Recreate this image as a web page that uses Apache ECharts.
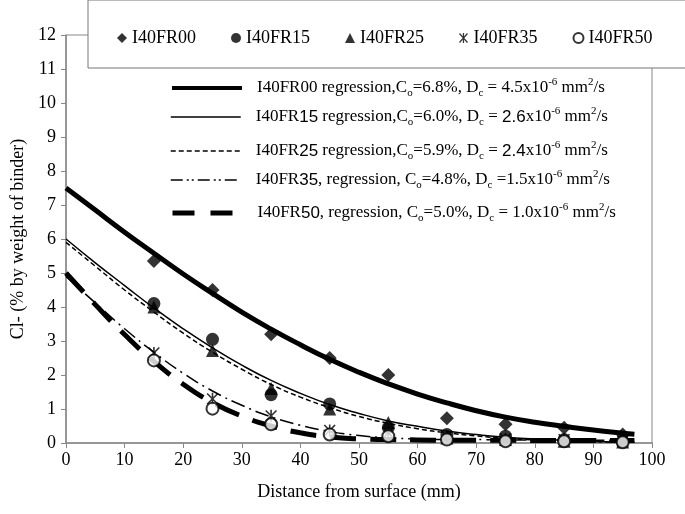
<!DOCTYPE html>
<html>
<head>
<meta charset="utf-8">
<script src="https://cdn.jsdelivr.net/npm/echarts@6/dist/echarts.min.js"></script>
<style>html,body{margin:0;padding:0;background:#fff}</style>
</head>
<body>
<div id="main" style="width:685px;height:514px"></div>
<script>
// measured chloride contents (% by weight of binder) at each depth
var depth = [15, 25, 35, 45, 55, 65, 75, 85, 95]
var fr00 = [5.35, 4.5, 3.2, 2.5, 2.0, 0.73, 0.55, 0.45, 0.25]
var fr15 = [4.1, 3.05, 1.42, 1.15, 0.45, 0.25, 0.2, 0.1, 0.05]
var fr25 = [4.0, 2.72, 1.6, 1.0, 0.6, 0.15, 0.1, 0.05, 0.03]
var fr35 = [2.65, 1.3, 0.8, 0.37, 0.3, 0.2, 0.12, 0.1, 0.05]
var fr50 = [2.43, 1.01, 0.55, 0.25, 0.2, 0.1, 0.05, 0.05, 0.02]

// regression curves
var fitX = [0, 5, 10, 15, 20, 25, 30, 35, 40, 45, 50, 55, 60, 65, 70, 75, 80, 85, 90, 95, 97]
var fit00 = [7.5, 6.85, 6.2, 5.58, 4.97, 4.4, 3.85, 3.35, 2.89, 2.46, 2.08, 1.74, 1.44, 1.18, 0.95, 0.76, 0.61, 0.49, 0.38, 0.29, 0.26]
var fit15 = [6.0, 5.3, 4.63, 3.97, 3.36, 2.8, 2.29, 1.84, 1.46, 1.13, 0.87, 0.65, 0.49, 0.35, 0.25, 0.17, 0.12, 0.08, 0.05, 0.03, 0.03]
var fit25 = [5.9, 5.2, 4.5, 3.85, 3.23, 2.67, 2.17, 1.72, 1.35, 1.04, 0.78, 0.58, 0.42, 0.3, 0.21, 0.14, 0.09, 0.06, 0.04, 0.02, 0.02]
var fit35 = [4.9, 4.12, 3.36, 2.67, 2.05, 1.53, 1.11, 0.77, 0.52, 0.34, 0.22, 0.15, 0.12, 0.1, 0.1, 0.09, 0.09, 0.08, 0.08, 0.08, 0.08]
var fit50 = [5.0, 4.07, 3.19, 2.4, 1.73, 1.19, 0.79, 0.5, 0.3, 0.18, 0.12, 0.1, 0.09, 0.08, 0.08, 0.08, 0.07, 0.07, 0.07, 0.07, 0.07]

var mixNames = ['I40FR00', 'I40FR15', 'I40FR25', 'I40FR35', 'I40FR50']
var fitNames = ['I40FR00 regression', 'I40FR15 regression', 'I40FR25 regression', 'I40FR35 regression', 'I40FR50 regression']
var fitLabels = [
  'I40FR00 regression,C{sub|o}=6.8%, D{sub|c} = 4.5x10{sup|-6} mm{sup|2}/s',
  'I40FR{sans|15} regression,C{sub|o}=6.0%, D{sub|c} = {sans|2.6}x10{sup|-6} mm{sup|2}/s',
  'I40FR{sans|25} regression,C{sub|o}=5.9%, D{sub|c} = {sans|2.4}x10{sup|-6} mm{sup|2}/s',
  'I40FR{sans|35}, regression, C{sub|o}=4.8%, D{sub|c} =1.5x10{sup|-6} mm{sup|2}/s',
  'I40FR{sans|50}, regression, C{sub|o}=5.0%, D{sub|c} = 1.0x10{sup|-6} mm{sup|2}/s'
]

var serif = 'Liberation Serif'
var asterisk = 'path://M-0.6,-5L0.6,-5L0.6,5L-0.6,5Z' +
  'M-3.55,-4.9L4.45,4.1L3.55,4.9L-4.45,-4.1Z' +
  'M4.45,-4.1L-3.55,4.9L-4.45,4.1L3.55,-4.9Z'

function pairs(xs, ys) {
  return xs.map(function (x, i) { return [x, ys[i]] })
}

var myChart = echarts.init(document.getElementById('main'))

var marks = [
  {values: fr00, symbol: 'diamond', size: 14},
  {values: fr15, symbol: 'circle', size: 13},
  {values: fr25, symbol: 'triangle', size: 13},
  {values: fr35, symbol: asterisk, size: 12},
  {values: fr50, symbol: 'emptyCircle', size: 12}
]
var lines = [
  {values: fit00, width: 5, type: 'solid'},
  {values: fit15, width: 1.5, type: 'solid'},
  {values: fit25, width: 1.5, type: [5, 3]},
  {values: fit35, width: 1.5, type: [14, 5, 2, 5]},
  {values: fit50, width: 5, type: [26, 14]}
]
// legend icons are short, so they get their own dash patterns
var legendDash = ['solid', 'solid', [5, 3], [12, 4, 2, 3, 2, 4], [22, 16]]
var legendWidth = [4, 1.5, 1.5, 1.5, 5]

var series = []
lines.forEach(function (l, i) {
  series.push({
    name: fitNames[i],
    type: 'line',
    data: pairs(fitX, l.values),
    smooth: true,
    symbol: 'none',
    silent: true,
    z: 2,
    itemStyle: {color: '#000'},
    lineStyle: {color: '#000', width: l.width, type: l.type}
  })
})
marks.forEach(function (m, i) {
  series.push({
    name: mixNames[i],
    type: 'scatter',
    data: pairs(depth, m.values),
    symbol: m.symbol,
    symbolSize: m.size,
    z: 3,
    itemStyle: {color: '#000', borderColor: '#000', borderWidth: m.symbol == 'emptyCircle' ? 1.5 : 0}
  })
})

var legends = [{
  data: mixNames,
  left: 88,
  top: 0,
  width: 640,
  padding: [29, 40, 21, 29],
  itemGap: 35,
  itemWidth: 10,
  itemHeight: 10,
  backgroundColor: '#fff',
  borderColor: '#777',
  borderWidth: 1,
  selectedMode: false,
  textStyle: {fontFamily: serif, fontSize: 18, color: '#000'}
}]
var rowTops = [77, 106, 140, 169, 202]
fitNames.forEach(function (n, i) {
  legends.push({
    data: [n],
    left: 170,
    top: rowTops[i],
    padding: 0,
    itemWidth: 70,
    itemHeight: 14,
    selectedMode: false,
    itemStyle: {color: 'rgba(0,0,0,0)', borderWidth: 0},
    lineStyle: {color: '#000', width: legendWidth[i], type: legendDash[i]},
    formatter: function () { return fitLabels[i] },
    textStyle: {
      fontFamily: serif, fontSize: 17, color: '#000', lineHeight: 22, padding: [0, 0, 0, 10],
      rich: {
        sub: {fontFamily: serif, fontSize: 11, verticalAlign: 'bottom', lineHeight: 22},
        sup: {fontFamily: serif, fontSize: 11, verticalAlign: 'top', lineHeight: 22},
        sans: {fontFamily: 'Liberation Sans', fontSize: 17, lineHeight: 22}
      }
    }
  })
})

var option = {
  animation: false,
  backgroundColor: '#fff',
  grid: {left: 66, right: 33, top: 35, bottom: 71, show: true, borderColor: '#888', borderWidth: 1},
  legend: legends,
  xAxis: {
    type: 'value',
    min: 0,
    max: 100,
    interval: 10,
    name: 'Distance from surface (mm)',
    nameLocation: 'middle',
    nameGap: 40,
    nameTextStyle: {fontFamily: serif, fontSize: 18, color: '#000'},
    axisLine: {lineStyle: {color: '#888', width: 1.5}},
    axisTick: {length: 5, lineStyle: {color: '#888'}},
    axisLabel: {fontFamily: serif, fontSize: 18, color: '#000', margin: 8},
    splitLine: {show: false}
  },
  yAxis: {
    type: 'value',
    min: 0,
    max: 12,
    interval: 1,
    name: 'Cl- (% by weight of binder)',
    nameLocation: 'middle',
    nameGap: 38,
    nameTextStyle: {fontFamily: serif, fontSize: 18, color: '#000'},
    axisLine: {show: true, lineStyle: {color: '#888', width: 1.5}},
    axisTick: {show: true, length: 5, lineStyle: {color: '#888'}},
    axisLabel: {fontFamily: serif, fontSize: 18, color: '#000', margin: 10},
    splitLine: {show: false}
  },
  series: series
}

myChart.setOption(option)
</script>
</body>
</html>
